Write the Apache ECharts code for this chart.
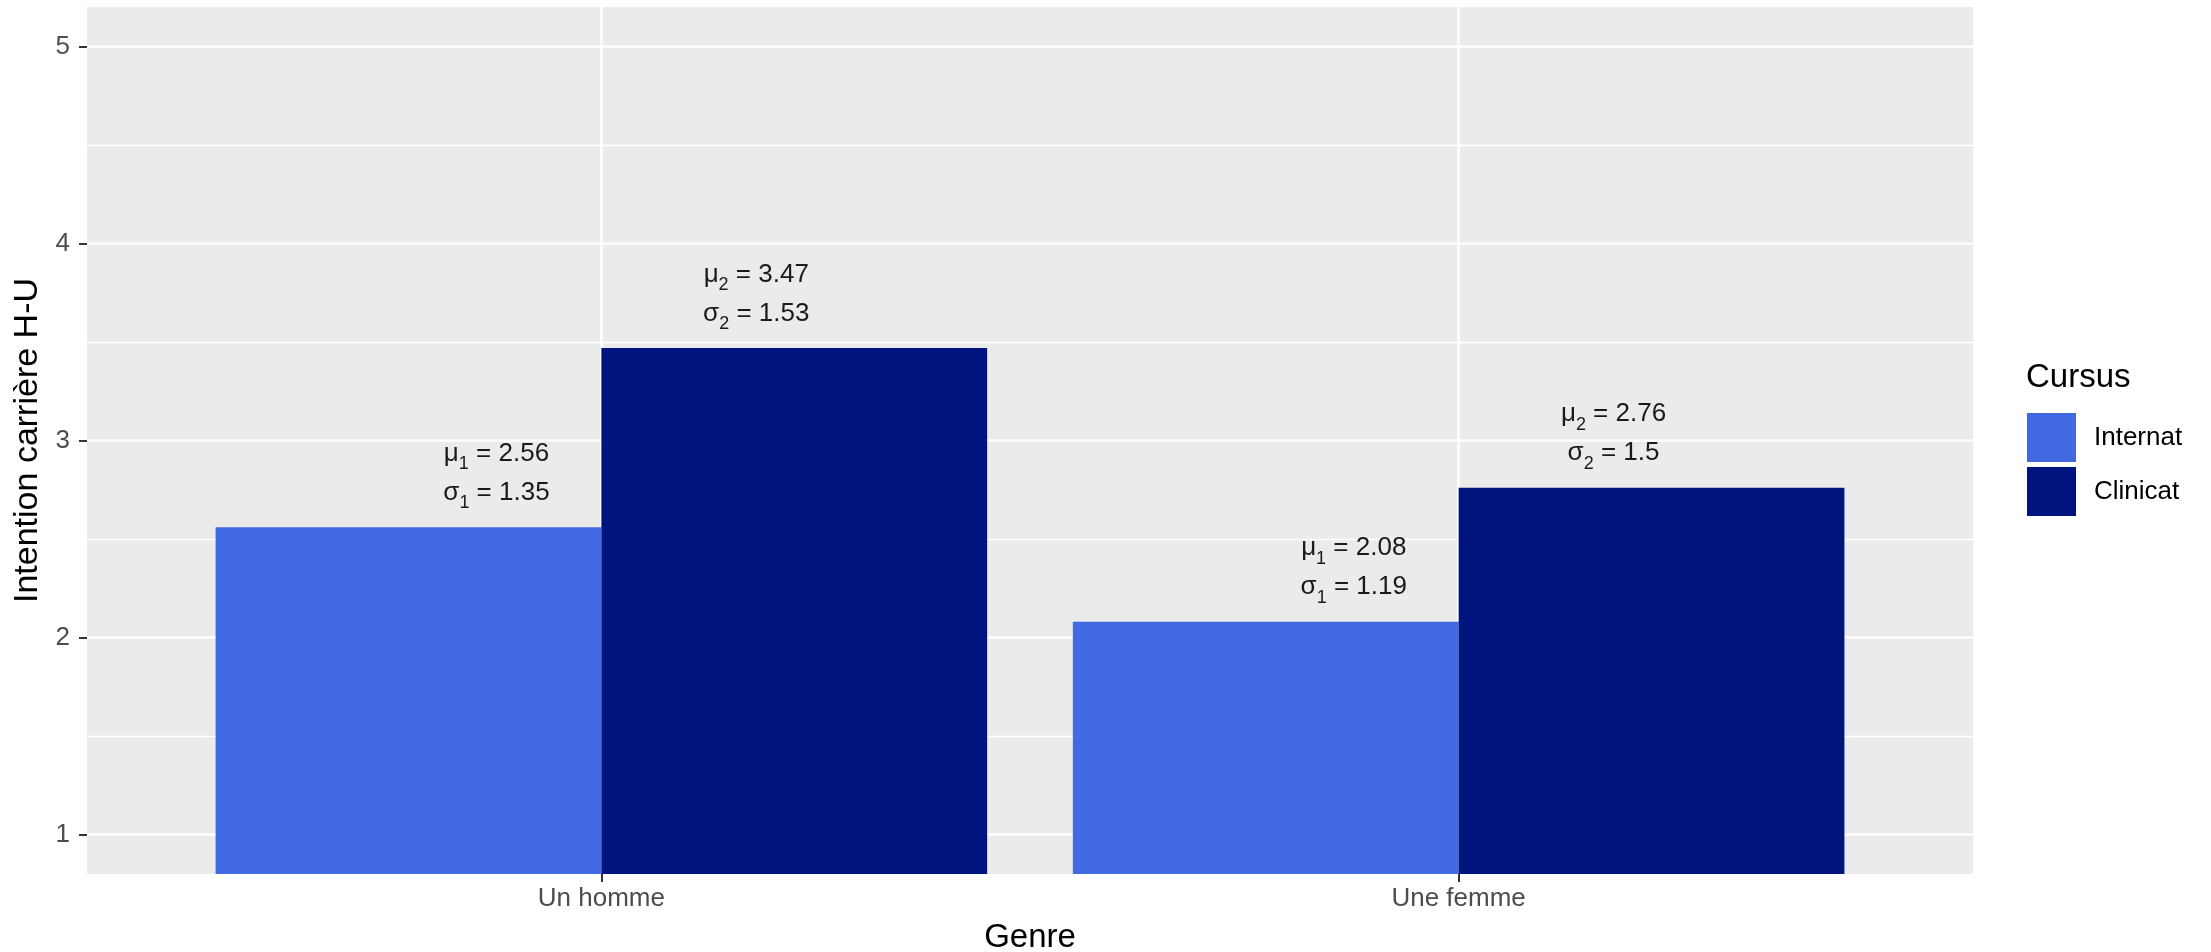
<!DOCTYPE html>
<html>
<head>
<meta charset="utf-8">
<script src="https://cdn.jsdelivr.net/npm/echarts@6/dist/echarts.min.js"></script>
<style>html,body{margin:0;padding:0;background:#fff}#c{width:2211px;height:952px}</style>
</head>
<body>
<div id="c"></div>
<script>
// ---- data ----
const categories = ['Un homme', 'Une femme'];
const seriesNames = ['Internat', 'Clinicat'];
const internatMean = [2.56, 2.08];
const internatSd = [1.35, 1.19];
const clinicatMean = [3.47, 2.76];
const clinicatSd = [1.53, 1.5];
const yTicks = [1, 2, 3, 4, 5];
const yMinorTicks = [1.5, 2.5, 3.5, 4.5];
const xTicks = [1, 2];

const FONT = '"Liberation Sans", Arial, sans-serif';
const chart = echarts.init(document.getElementById('c'), null, {renderer: 'canvas'});

function lbl(idx, mean, sd) {
  return function (p) {
    return '{g|\u03bc}{s|' + idx + '}{t| = ' + mean[p.dataIndex] + '}\n' +
           '{g|\u03c3}{s|' + idx + '}{t| = ' + sd[p.dataIndex] + '}';
  };
}
const rich = {
  g: {fontSize: 26, fontFamily: FONT, color: '#1a1a1a', lineHeight: 39, verticalAlign: 'middle'},
  s: {fontSize: 18, fontFamily: FONT, color: '#1a1a1a', lineHeight: 22, verticalAlign: 'bottom'},
  t: {fontSize: 26, fontFamily: FONT, color: '#1a1a1a', lineHeight: 39, verticalAlign: 'middle'}
};

const panelLeft = 87, panelRight = 238, panelTop = 7, panelBottom = 78;
const panelW = 2211 - panelLeft - panelRight;
const unit = panelW / 2.2;

const option = {
  animation: false,
  backgroundColor: '#ffffff',
  textStyle: {fontFamily: FONT},
  title: {
    text: 'Cursus', left: 2026, top: 361, padding: 0,
    textStyle: {fontSize: 33, fontWeight: 'normal', color: '#000', fontFamily: FONT}
  },
  legend: {
    data: seriesNames, orient: 'vertical', left: 2027, top: 413, padding: 0,
    itemWidth: 49, itemHeight: 49, itemGap: 5, icon: 'rect',
    textStyle: {fontSize: 26, color: '#000', fontFamily: FONT, padding: [0, 0, 0, 13]}
  },
  grid: [
    {left: panelLeft, right: panelRight, top: panelTop, bottom: panelBottom, show: true,
     backgroundColor: '#EBEBEB', borderWidth: 0, containLabel: false, outerBoundsMode: 'none'},
    {left: panelLeft + 0.1 * unit, right: panelRight + 0.1 * unit, top: panelTop, bottom: panelBottom,
     show: false, containLabel: false, outerBoundsMode: 'none'}
  ],
  xAxis: [
    {gridIndex: 0, type: 'value', min: 0.4, max: 2.6,
     name: 'Genre', nameLocation: 'middle', nameGap: 47,
     nameTextStyle: {fontSize: 33, color: '#000', fontFamily: FONT},
     axisLine: {show: false},
     axisTick: {show: true, customValues: xTicks, length: 8, lineStyle: {color: '#333333', width: 2}},
     axisLabel: {customValues: xTicks, margin: 12, fontSize: 26, color: '#4D4D4D', fontFamily: FONT,
                 formatter: v => categories[Math.round(v) - 1] || ''},
     splitLine: {show: true, lineStyle: {color: '#ffffff', width: 2.6}}},
    {gridIndex: 1, type: 'category', data: categories, show: false,
     axisTick: {show: false}, axisLine: {show: false}, splitLine: {show: false}}
  ],
  yAxis: [
    {gridIndex: 0, type: 'value', min: 0.8, max: 5.2, splitNumber: 4, minInterval: 1, maxInterval: 1,
     name: 'Intention carri\u00e8re H-U', nameLocation: 'middle', nameGap: 39,
     nameTextStyle: {fontSize: 34, color: '#000', fontFamily: FONT},
     axisLine: {show: false},
     axisTick: {show: true, customValues: yTicks, length: 8, lineStyle: {color: '#333333', width: 2}},
     axisLabel: {customValues: yTicks, margin: 17, fontSize: 26, color: '#4D4D4D', fontFamily: FONT,
                 formatter: v => (Number.isInteger(v) ? String(v) : '')},
     splitLine: {show: true, lineStyle: {color: '#ffffff', width: 2.6}}},
    {gridIndex: 0, type: 'value', min: 0.8, max: 5.2, splitNumber: 8, minInterval: 0.5, maxInterval: 0.5,
     axisLine: {show: false},
     axisTick: {show: false, customValues: yMinorTicks},
     axisLabel: {show: false, customValues: yMinorTicks},
     splitLine: {show: true, lineStyle: {color: '#ffffff', width: 1.3}}},
    {gridIndex: 1, type: 'value', min: 0.8, max: 5.2, show: false,
     splitLine: {show: false}}
  ],
  series: [
    {name: 'Internat', type: 'bar', xAxisIndex: 1, yAxisIndex: 2,
     data: internatMean, barGap: '0%', barCategoryGap: '10%',
     itemStyle: {color: '#4169E1'},
     label: {show: true, position: 'top', distance: 15, offset: [88, 0], align: 'center',
             formatter: lbl(1, internatMean, internatSd), rich: rich}},
    {name: 'Clinicat', type: 'bar', xAxisIndex: 1, yAxisIndex: 2,
     data: clinicatMean, barGap: '0%', barCategoryGap: '10%',
     itemStyle: {color: '#001480'},
     label: {show: true, position: 'top', distance: 15, offset: [-38, 0], align: 'center',
             formatter: lbl(2, clinicatMean, clinicatSd), rich: rich}}
  ]
};
chart.setOption(option);
</script>
</body>
</html>
